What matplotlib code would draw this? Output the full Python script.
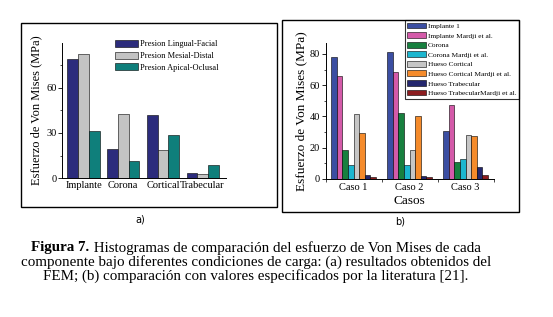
import numpy as np
import matplotlib
matplotlib.use("Agg")
import matplotlib.pyplot as plt
from matplotlib.patches import Rectangle
from matplotlib.ticker import MultipleLocator

plt.rcParams['font.family'] = ['Liberation Serif', 'DejaVu Serif']

# panel a) datos
partes = ["Implante", "Corona", "Cortical", "Trabecular"]
series_a = ["Presion Lingual-Facial", "Presion Mesial-Distal", "Presion Apical-Oclusal"]
lingual = [78.8, 19.2, 41.7, 3.5]
mesial = [82.3, 42.6, 18.5, 2.6]
apical = [31.1, 11.3, 28.5, 8.6]
colores_a = ["#2c2c7c", "#c3c3c3", "#0f7f7b"]

# panel b) datos
casos = ["Caso 1", "Caso 2", "Caso 3"]
series_b = ["Implante 1", "Implante Mardji et al.", "Corona", "Corona Mardji et al.",
            "Hueso Cortical", "Hueso Cortical Mardji et al.", "Hueso Trabecular",
            "Hueso TrabecularMardji et al."]
implante1 = [77.9, 81.1, 30.5]
implante_mardji = [65.7, 68.3, 47.2]
corona = [18.3, 42.0, 10.9]
corona_mardji = [8.8, 8.8, 12.6]
cortical = [41.4, 18.3, 28.2]
cortical_mardji = [29.2, 40.3, 27.5]
trabecular = [2.3, 1.7, 7.5]
trabecular_mardji = [1.1, 1.1, 2.3]
colores_b = ["#3b4ea2", "#d45aa9", "#17803f", "#1cb6cf", "#c6c6c6", "#f58b2b", "#24276e", "#8c1c1f"]

W, H = 553, 317
fig = plt.figure(figsize=(W / 100, H / 100), dpi=100)


def fx(px):
    return px / W


def fy(py):
    return 1 - py / H


# marcos de cada panel
for x0, y0, x1, y1 in [(21, 23, 277, 207), (282, 20, 519, 212)]:
    fig.patches.append(Rectangle((fx(x0), fy(y1)), fx(x1 - x0), (y1 - y0) / H,
                                 transform=fig.transFigure, fill=False,
                                 edgecolor="black", linewidth=1.0))

# ---- panel a
ax1 = fig.add_axes([fx(62.3), fy(178.3), fx(225.7 - 62.3), (178.3 - 43) / H])
x = np.arange(len(partes))
w = 0.27
for i, (vals, lab) in enumerate(zip([lingual, mesial, apical], series_a)):
    ax1.bar(x + (i - 1) * w, vals, w, color=colores_a[i], edgecolor="black",
            linewidth=0.4, label=lab)
ax1.set_xlim(-0.534, 3.58)
ax1.set_ylim(0, 89.5)
ax1.set_yticks([0, 30, 60])
ax1.yaxis.set_minor_locator(MultipleLocator(15))
ax1.set_xticks(x)
ax1.set_xticklabels(partes, fontsize=7.5)
ax1.tick_params(axis="x", length=0, pad=2)
ax1.tick_params(axis="y", which="major", labelsize=7.5, length=3, width=0.6, pad=1)
ax1.tick_params(axis="y", which="minor", length=1.5, width=0.5)
for s in ["top", "right"]:
    ax1.spines[s].set_visible(False)
for s in ["left", "bottom"]:
    ax1.spines[s].set_linewidth(0.7)
ax1.set_ylabel("Esfuerzo de Von Mises (MPa)", fontsize=9, labelpad=3)
ax1.legend(loc="upper left", bbox_to_anchor=(fx(115), fy(40)),
           bbox_transform=fig.transFigure, frameon=False, fontsize=6,
           borderpad=0, borderaxespad=0, handlelength=2.7, handleheight=0.9,
           handletextpad=0.25, labelspacing=0.4)

# ---- panel b
ax2 = fig.add_axes([fx(325.7), fy(179), fx(493.5 - 325.7), (179 - 42.7) / H])
x2 = np.arange(len(casos))
wb = 0.1
vals_b = [implante1, implante_mardji, corona, corona_mardji, cortical,
          cortical_mardji, trabecular, trabecular_mardji]
for i, (vals, lab) in enumerate(zip(vals_b, series_b)):
    ax2.bar(x2 + (i - 3.5) * wb, vals, wb, color=colores_b[i], edgecolor="black",
            linewidth=0.4, label=lab)
ax2.set_xlim(-0.5, 2.5)
ax2.set_ylim(0, 87.2)
ax2.set_yticks([0, 20, 40, 60, 80])
ax2.yaxis.set_minor_locator(MultipleLocator(10))
ax2.set_xticks(x2)
ax2.set_xticklabels(casos, fontsize=7.5)
ax2.set_xticks([-0.5, 0.5, 1.5, 2.5], minor=True)
ax2.tick_params(axis="x", which="major", length=0, pad=3)
ax2.tick_params(axis="x", which="minor", length=2, width=0.5)
ax2.tick_params(axis="y", which="major", labelsize=7.5, length=3, width=0.6, pad=1)
ax2.tick_params(axis="y", which="minor", length=1.5, width=0.5)
for s in ["top", "right"]:
    ax2.spines[s].set_visible(False)
for s in ["left", "bottom"]:
    ax2.spines[s].set_linewidth(0.7)
ax2.set_ylabel("Esfuerzo de Von Mises (MPa)", fontsize=9.5, labelpad=2)
ax2.set_xlabel("Casos", fontsize=9.5, labelpad=2)
leg = ax2.legend(loc="upper right", bbox_to_anchor=(fx(519), fy(20)),
                 bbox_transform=fig.transFigure, fontsize=5.3, fancybox=False,
                 borderpad=0.35, borderaxespad=0, handlelength=2.6, handleheight=0.85,
                 handletextpad=0.2, labelspacing=0.42)
leg.get_frame().set_edgecolor("black")
leg.get_frame().set_linewidth(0.8)

fig.text(fx(140), fy(219), "a)", fontsize=7, family="DejaVu Sans", ha="center", va="center")
fig.text(fx(400), fy(222), "b)", fontsize=7, family="DejaVu Sans", ha="center", va="center")

# pie de figura
fs = 10.8
cx = fx(256)
r = fig.canvas.get_renderer()
t_b = fig.text(0, fy(248), "Figura 7.", fontsize=fs, fontweight="bold", va="center")
t_r = fig.text(0, fy(248), " Histogramas de comparación del esfuerzo de Von Mises de cada",
               fontsize=fs, va="center")
wb_ = t_b.get_window_extent(r).width / W
wr_ = t_r.get_window_extent(r).width / W
x0 = cx - (wb_ + wr_) / 2
t_b.set_x(x0)
t_r.set_x(x0 + wb_)
fig.text(cx, fy(262.5), "componente bajo diferentes condiciones de carga: (a) resultados obtenidos del",
         fontsize=fs, ha="center", va="center")
fig.text(cx, fy(276.5), "FEM; (b) comparación con valores especificados por la literatura [21].",
         fontsize=fs, ha="center", va="center")

fig.savefig("out.png", dpi=100)
